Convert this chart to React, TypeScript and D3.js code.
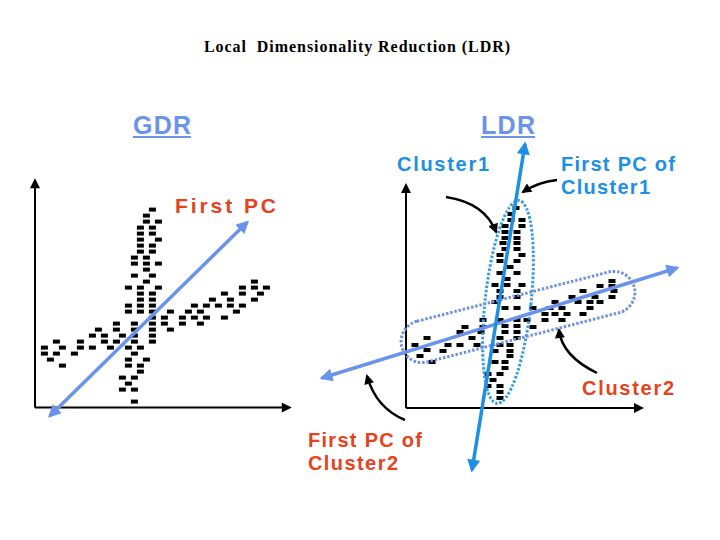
import React from 'react';
import * as d3 from 'd3';

// left panel (global reduction): dash positions on the slide's 6px grid
const leftVertical: [number, number][] = [
  [20, 33], [19, 32], [19, 31], [21, 31], [18, 30], [20, 30], [18, 29], [20, 29],
  [18, 28], [21, 28], [18, 27], [20, 27], [18, 26], [20, 26], [17, 25], [19, 25],
  [17, 24], [19, 24], [21, 24], [19, 23], [17, 22], [20, 22], [19, 21], [16, 20],
  [18, 20], [21, 20], [18, 19], [20, 19], [18, 18], [20, 18], [16, 17], [18, 17],
  [20, 17], [16, 16], [18, 16], [20, 16], [20, 15], [17, 14], [20, 14], [17, 13],
  [20, 13], [17, 12], [20, 12], [17, 11], [20, 11], [16, 10], [18, 10], [17, 9],
  [16, 8], [19, 8], [16, 7], [18, 7], [18, 6], [15, 5], [17, 5], [16, 4], [15, 3],
  [17, 3], [17, 1],
];
const leftHorizontal: [number, number][] = [
  [37, 21], [35, 20], [37, 20], [39, 20], [32, 19], [35, 19], [38, 19], [30, 18],
  [33, 18], [37, 18], [27, 17], [29, 17], [31, 17], [33, 17], [35, 17], [23, 16],
  [26, 16], [28, 16], [34, 16], [22, 15], [25, 15], [27, 15], [29, 15], [32, 15],
  [14, 14], [22, 14], [25, 14], [28, 14], [11, 13], [14, 13], [23, 13], [10, 12],
  [12, 12], [15, 12], [4, 11], [8, 11], [12, 11], [14, 11], [2, 10], [5, 10],
  [8, 10], [10, 10], [13, 10], [2, 9], [4, 9], [7, 9], [3, 8], [5, 7],
];
const leftPC: [number, number][] = [[2.9, -1.4], [35.8, 30.9]];

// right panel (local reduction)
const cluster1: [number, number][] = [
  [110, 200], [105, 194], [105, 188], [116, 188], [99, 182], [116, 182], [99, 176],
  [111, 176], [99, 170], [111, 170], [97, 165], [111, 165], [99, 159], [111, 159],
  [94, 153], [116, 153], [94, 147], [111, 147], [104, 141], [94, 135], [111, 135],
  [101, 129], [89, 123], [101, 123], [116, 123], [94, 117], [111, 117], [94, 111],
  [111, 111], [89, 106], [99, 100], [111, 100], [94, 88], [111, 88], [99, 82],
  [111, 82], [99, 76], [111, 76], [94, 70], [111, 70], [94, 63], [104, 63], [89, 57],
  [104, 57], [104, 52], [89, 46], [99, 46], [99, 40], [82, 34], [94, 34], [87, 28],
  [82, 22], [94, 22], [94, 16], [94, 10],
];
const cluster2: [number, number][] = [
  [206, 127], [194, 122], [206, 122], [177, 117], [208, 117], [166, 111], [189, 111],
  [206, 111], [149, 106], [172, 106], [184, 106], [194, 106], [127, 100], [144, 100],
  [156, 100], [184, 100], [139, 94], [149, 94], [161, 94], [177, 94], [121, 88],
  [139, 88], [156, 88], [127, 81], [77, 88], [77, 81], [59, 81], [54, 76], [75, 76],
  [21, 70], [66, 70], [9, 63], [42, 63], [54, 63], [71, 63], [21, 58], [37, 57],
  [14, 52], [26, 46],
];
const pc1: [number, number][] = [[66, -62], [119, 264]];
const pc2: [number, number][] = [[-84, 30], [271, 140]];
// outline: centre, half length, half width, tilt (deg)
const outline1 = { c: [102, 106], len: 102, wid: 23, tilt: 6.2 };
const outline2 = { c: [112, 91], len: 120, wid: 21, tilt: -14.4 };
// pointer curves: start, control, end
const pointers: [number, number][][] = [
  [[40, 211], [79, 205], [90, 176]],
  [[151, 228], [132, 226], [117, 216]],
  [[191, 35], [156, 52], [153, 78]],
  [[-1, -12], [-30, 0], [-39, 32]],
];

const CORN = '#6a94ea';
const SKY = '#1d8fe4';
const RED = '#e8421c';
const BOLD = "'Liberation Sans', Arial, sans-serif";

export default function App() {
  const lx = d3.scaleLinear().domain([0, 43]).range([32.4, 290.4]);
  const ly = d3.scaleLinear().domain([0, 39]).range([407.6, 173.6]);
  const rx = d3.scaleLinear().domain([0, 236]).range([406, 642]);
  const ry = d3.scaleLinear().domain([0, 223]).range([408, 185]);

  const dash = (x: number, y: number, k: string) => (
    <rect key={k} x={x - 3.5} y={y - 2} width={7} height={4} fill="#000" />
  );

  const curve = (p: [number, number][]) => {
    const path = d3.path();
    path.moveTo(rx(p[0][0]), ry(p[0][1]));
    path.quadraticCurveTo(rx(p[1][0]), ry(p[1][1]), rx(p[2][0]), ry(p[2][1]));
    return path.toString();
  };

  const label = (t: string, x: number, y: number, len: number, fill: string, size = 20) => (
    <text x={x} y={y} fontFamily={BOLD} fontWeight="bold" fontSize={size} fill={fill}
      textLength={len} lengthAdjust="spacing">{t}</text>
  );

  return (
    <svg width={720} height={540} style={{ position: 'absolute', left: 0, top: 0, background: '#fff' }}>
      <defs>
        <marker id="axHead" viewBox="0 0 10 10" refX="8" refY="5" markerWidth="12" markerHeight="10"
          markerUnits="userSpaceOnUse" orient="auto">
          <path d="M0,0L10,5L0,10z" fill="#000" />
        </marker>
        <marker id="ptrHead" viewBox="0 0 10 10" refX="8" refY="5" markerWidth="11" markerHeight="10"
          markerUnits="userSpaceOnUse" orient="auto">
          <path d="M0,0L10,5L0,10z" fill="#000" />
        </marker>
        <marker id="cornHead" viewBox="0 0 10 10" refX="8" refY="5" markerWidth="17" markerHeight="13"
          markerUnits="userSpaceOnUse" orient="auto-start-reverse">
          <path d="M0,0L10,5L0,10z" fill={CORN} />
        </marker>
        <marker id="skyHead" viewBox="0 0 10 10" refX="8" refY="5" markerWidth="17" markerHeight="13"
          markerUnits="userSpaceOnUse" orient="auto-start-reverse">
          <path d="M0,0L10,5L0,10z" fill={SKY} />
        </marker>
      </defs>

      <text x={357} y={52} textAnchor="middle" fontFamily="'Liberation Serif', 'Times New Roman', serif"
        fontWeight="bold" fontSize={16} textLength={306} lengthAdjust="spacing"
        style={{ whiteSpace: 'pre' }}>Local  Dimensionality Reduction (LDR)</text>

      {label('GDR', 133, 134, 58, CORN, 25)}
      <line x1={133} x2={191} y1={137} y2={137} stroke={CORN} strokeWidth={2} />
      {label('LDR', 481, 134, 54, CORN, 25)}
      <line x1={481} x2={535} y1={137} y2={137} stroke={CORN} strokeWidth={2} />

      {/* left panel */}
      <line x1={lx(0.43)} x2={lx(0.43)} y1={ly(0)} y2={ly(37.9)} stroke="#000" strokeWidth={2}
        markerEnd="url(#axHead)" />
      <line x1={lx(0.43)} x2={lx(42.9)} y1={ly(0)} y2={ly(0)} stroke="#000" strokeWidth={2}
        markerEnd="url(#axHead)" />
      {leftVertical.map((d, i) => dash(lx(d[0]), ly(d[1]), 'lv' + i))}
      {leftHorizontal.map((d, i) => dash(lx(d[0]), ly(d[1]), 'lh' + i))}
      <line x1={lx(leftPC[0][0])} y1={ly(leftPC[0][1])} x2={lx(leftPC[1][0])} y2={ly(leftPC[1][1])}
        stroke={CORN} strokeWidth={3.5} markerStart="url(#cornHead)" markerEnd="url(#cornHead)" />
      {label('First PC', 175, 213, 101, RED, 21)}

      {/* right panel */}
      <line x1={rx(0)} x2={rx(0)} y1={ry(0)} y2={ry(223)} stroke="#000" strokeWidth={2}
        markerEnd="url(#axHead)" />
      <line x1={rx(0)} x2={rx(236)} y1={ry(0)} y2={ry(0)} stroke="#000" strokeWidth={2}
        markerEnd="url(#axHead)" />
      {cluster1.map((d, i) => dash(rx(d[0]), ry(d[1]), 'c1' + i))}
      {cluster2.map((d, i) => dash(rx(d[0]), ry(d[1]), 'c2' + i))}

      <ellipse cx={0} cy={0} rx={outline1.wid} ry={outline1.len} fill="none" stroke="#3a9be0"
        strokeWidth={3} strokeDasharray="2.5 1.8"
        transform={`translate(${rx(outline1.c[0])},${ry(outline1.c[1])}) rotate(${outline1.tilt})`} />
      <rect x={-outline2.len} y={-outline2.wid} width={outline2.len * 2} height={outline2.wid * 2}
        rx={outline2.wid} fill="none" stroke="#6f92e2" strokeWidth={3} strokeDasharray="2.5 1.8"
        transform={`translate(${rx(outline2.c[0])},${ry(outline2.c[1])}) rotate(${outline2.tilt})`} />

      <line x1={rx(pc2[0][0])} y1={ry(pc2[0][1])} x2={rx(pc2[1][0])} y2={ry(pc2[1][1])}
        stroke={CORN} strokeWidth={3.5} markerStart="url(#cornHead)" markerEnd="url(#cornHead)" />
      <line x1={rx(pc1[0][0])} y1={ry(pc1[0][1])} x2={rx(pc1[1][0])} y2={ry(pc1[1][1])}
        stroke={SKY} strokeWidth={3.5} markerStart="url(#skyHead)" markerEnd="url(#skyHead)" />

      {pointers.map((p, i) => (
        <path key={'p' + i} d={curve(p)} fill="none" stroke="#000" strokeWidth={2.5}
          markerEnd="url(#ptrHead)" />
      ))}

      {label('Cluster1', 397, 171, 92, SKY)}
      {label('First PC of', 561, 171, 114, SKY)}
      {label('Cluster1', 561, 194, 89, SKY)}
      {label('Cluster2', 582, 395, 92, RED)}
      {label('First PC of', 308, 447, 114, RED)}
      {label('Cluster2', 308, 470, 90, RED)}
    </svg>
  );
}
